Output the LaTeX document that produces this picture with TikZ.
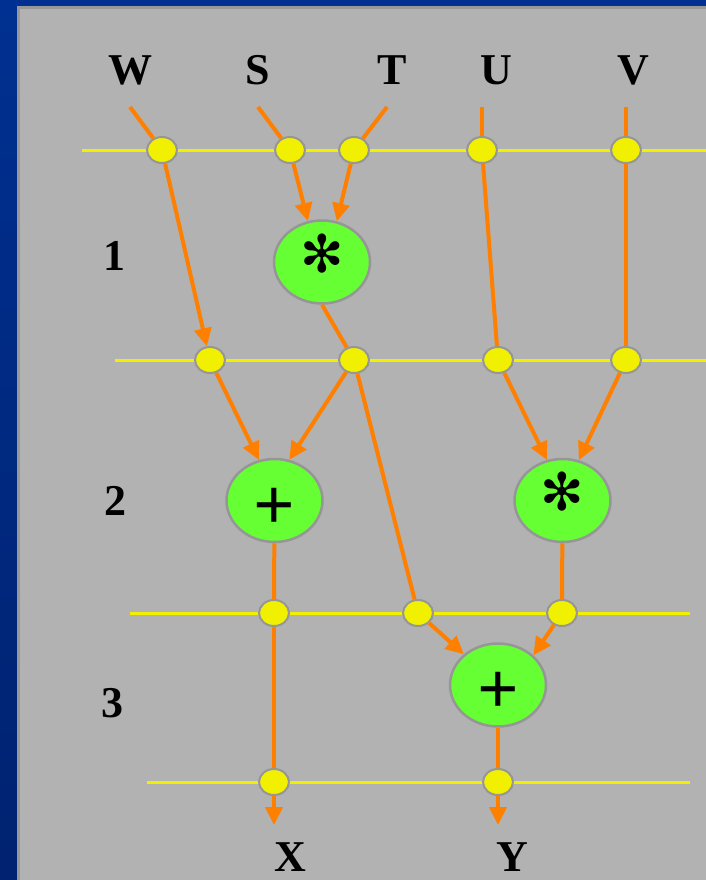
\documentclass[tikz,border=0pt]{standalone}
\usepackage{fontspec}
\setmainfont{Liberation Serif}
\newfontfamily\symfont{DejaVu Sans}
\usetikzlibrary{shapes.geometric,arrows.meta}
\definecolor{bgray}{RGB}{178,178,178}
\definecolor{edgegray}{RGB}{152,152,152}
\definecolor{frameblue}{RGB}{0,48,145}
\definecolor{frameblue2}{RGB}{0,34,112}
\definecolor{rowyellow}{RGB}{240,240,0}
\definecolor{wireorange}{RGB}{255,128,0}
\definecolor{opgreen}{RGB}{102,255,51}
\definecolor{rimgray}{RGB}{150,150,150}
\begin{document}
\begin{tikzpicture}[x=1pt,y=-1pt,
  dot/.style={ellipse,fill=rowyellow,draw=rimgray,line width=2pt,minimum width=30pt,minimum height=26pt,inner sep=0pt},
  opnode/.style={ellipse,fill=opgreen,draw=rimgray,line width=2.5pt,minimum width=96pt,minimum height=83pt,inner sep=0pt},
  rowline/.style={draw=rowyellow,line width=3pt},
  wire/.style={draw=wireorange,line width=4pt},
  arr/.style={wire,-{Triangle[length=18pt,width=17pt]}},
  lbl/.style={font=\fontsize{44}{48}\selectfont\bfseries,inner sep=0pt},
  starsym/.style={font=\symfont\fontsize{52}{56}\selectfont,inner sep=0pt,anchor=center},
  plussym/.style={font=\fontsize{73}{78}\selectfont\bfseries,inner sep=0pt,anchor=base},
]
\useasboundingbox (0,0) rectangle (706,880);
% frame and background
\fill[frameblue] (0,0) rectangle (706,6);
\shade[top color=frameblue,bottom color=frameblue2] (0,0) rectangle (17,880);
\fill[edgegray] (17,6) rectangle (706,880);
\fill[bgray] (20,9) rectangle (706,880);

% row lines
\coordinate (r0a) at (82,150);  \coordinate (r0b) at (706,150);
\coordinate (r1a) at (115,360); \coordinate (r1b) at (706,360);
\coordinate (r2a) at (130,613); \coordinate (r2b) at (690,613);
\coordinate (r3a) at (147,782); \coordinate (r3b) at (690,782);
\draw[rowline] (r0a) -- (r0b);
\draw[rowline] (r1a) -- (r1b);
\draw[rowline] (r2a) -- (r2b);
\draw[rowline] (r3a) -- (r3b);

% labels
\node[lbl] (labW) at (130,70) {W};
\node[lbl] (labS) at (258,70) {S};
\node[lbl] (labT) at (392,70) {T};
\node[lbl] (labU) at (496,70) {U};
\node[lbl] (labV) at (633,70) {V};
\node[lbl] (lab1) at (114,256) {1};
\node[lbl] (lab2) at (115,501) {2};
\node[lbl] (lab3) at (112,703) {3};
\node[lbl] (labX) at (290,857) {X};
\node[lbl] (labY) at (512,857) {Y};

% free ends
\coordinate (inW) at (130,107);
\coordinate (inS) at (258,107);
\coordinate (inT) at (387,107);
\coordinate (inU) at (482,107);
\coordinate (inV) at (626,107);
\coordinate (outX) at (274,825);
\coordinate (outY) at (498,825);

% dots
\node[dot] (dW0) at (162,150) {};
\node[dot] (dS0) at (290,150) {};
\node[dot] (dT0) at (354,150) {};
\node[dot] (dU0) at (482,150) {};
\node[dot] (dV0) at (626,150) {};
\node[dot] (d10) at (210,360) {};
\node[dot] (d11) at (354,360) {};
\node[dot] (d12) at (498,360) {};
\node[dot] (d13) at (626,360) {};
\node[dot] (d20) at (274,613) {};
\node[dot] (d21) at (418,613) {};
\node[dot] (d22) at (562,613) {};
\node[dot] (d30) at (274,782) {};
\node[dot] (d31) at (498,782) {};

% operations
\node[opnode] (mul1) at (322,262) {};
\node[opnode] (add1) at (274.5,500.5) {};
\node[opnode] (mul2) at (562.5,500.5) {};
\node[opnode] (add2) at (498,685) {};
\node[starsym] (mul1s) at (322.5,253.5) {✻};
\node[plussym] (add1s) at (274.5,529) {+};
\node[starsym] (mul2s) at (562.5,492) {✻};
\node[plussym] (add2s) at (498,713) {+};

% connectors
\draw[wire] (inW) -- (dW0);
\draw[wire] (inS) -- (dS0);
\draw[wire] (inT) -- (dT0);
\draw[wire] (inU) -- (dU0);
\draw[wire] (inV) -- (dV0);
\draw[arr] (dS0) -- (mul1.109);
\draw[arr] (dT0) -- (mul1.70);
\draw[arr] (dW0) -- (d10);
\draw[wire] (mul1.south) -- (d11);
\draw[wire] (dU0) -- (d12);
\draw[wire] (dV0) -- (d13);
\draw[arr] (d10) -- (add1.111);
\draw[arr] (d11) -- (add1.70);
\draw[arr] (d12) -- (mul2.111);
\draw[arr] (d13) -- (mul2.68);
\draw[wire] (d11) -- (d21);
\draw[wire] (add1) -- (d20);
\draw[wire] (mul2) -- (d22);
\draw[arr] (d21) -- (add2.138);
\draw[arr] (d22) -- (add2.40);
\draw[wire] (d20) -- (d30);
\draw[wire] (add2) -- (d31);
\draw[arr] (d30) -- (outX);
\draw[arr] (d31) -- (outY);
\end{tikzpicture}
\end{document}
